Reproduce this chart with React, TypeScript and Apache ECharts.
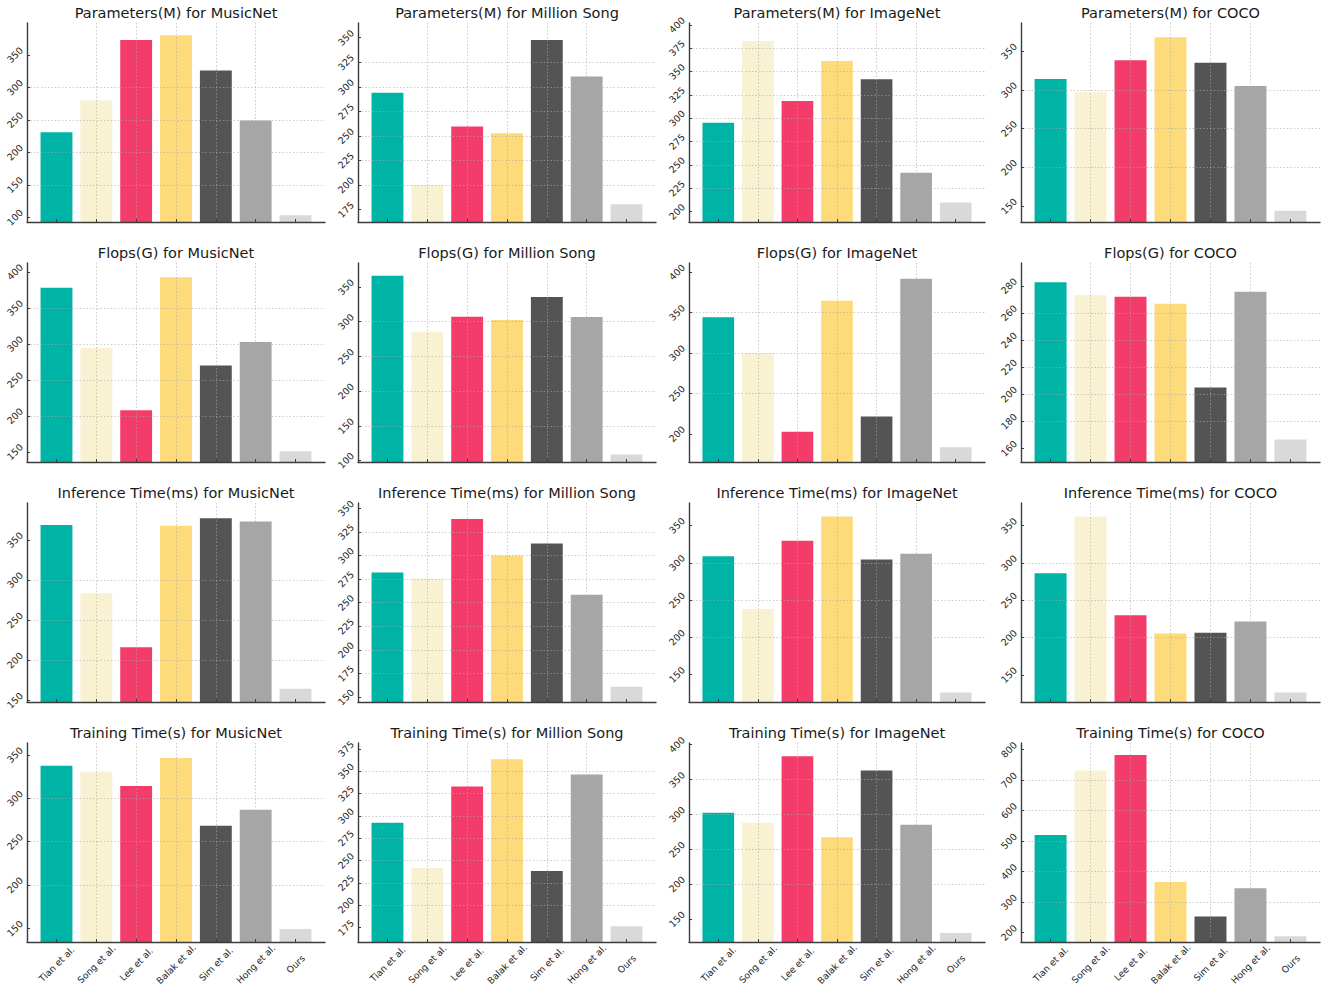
import React, { useEffect, useRef } from 'react';
import * as echarts from 'echarts';

const categories = ['Tian et al.', 'Song et al.', 'Lee et al.', 'Balak et al.', 'Sim et al.', 'Hong et al.', 'Ours'];

const paramsMusicNet = [231, 280, 373, 380, 326, 249, 103];
const paramsMillionSong = [294, 200, 259.5, 252.7, 347.6, 310.4, 180.4];
const paramsImageNet = [295.3, 382.9, 318.5, 361.4, 341.7, 241.7, 209.9];
const paramsCOCO = [314.2, 297, 338.4, 368.1, 335.3, 305.1, 143.9];

const flopsMusicNet = [377.7, 294, 207.6, 392.6, 269.9, 302.4, 150.9];
const flopsMillionSong = [366.3, 285.6, 307.2, 302.4, 335.6, 306.7, 108.7];
const flopsImageNet = [344.2, 300, 202.5, 364.5, 221.5, 391.7, 183.5];
const flopsCOCO = [282.7, 273.1, 271.9, 266.7, 204.9, 275.6, 166.7];

const inferMusicNet = [368.3, 283.4, 216.3, 367.5, 377, 372.9, 164.5];
const inferMillionSong = [282, 275.3, 338.7, 300, 312.6, 258.5, 160.9];
const inferImageNet = [308.8, 237.9, 329.4, 362.1, 304.3, 312, 125.8];
const inferCOCO = [286.1, 362.1, 229.9, 205.4, 206.3, 221.5, 126.3];

const trainMusicNet = [337.7, 330.7, 314.2, 346.5, 268.4, 286.9, 149.2];
const trainMillionSong = [292.2, 241.8, 332.8, 363.4, 238.4, 346.3, 176.5];
const trainImageNet = [302.4, 288, 383.2, 267.4, 363, 285.1, 130.3];
const trainCOCO = [519.7, 731.8, 782.5, 366, 252.9, 345.2, 188];

const chartTitles = [
  'Parameters(M) for MusicNet', 'Parameters(M) for Million Song', 'Parameters(M) for ImageNet', 'Parameters(M) for COCO',
  'Flops(G) for MusicNet', 'Flops(G) for Million Song', 'Flops(G) for ImageNet', 'Flops(G) for COCO',
  'Inference Time(ms) for MusicNet', 'Inference Time(ms) for Million Song', 'Inference Time(ms) for ImageNet', 'Inference Time(ms) for COCO',
  'Training Time(s) for MusicNet', 'Training Time(s) for Million Song', 'Training Time(s) for ImageNet', 'Training Time(s) for COCO',
];

const chartValues = [
  paramsMusicNet, paramsMillionSong, paramsImageNet, paramsCOCO,
  flopsMusicNet, flopsMillionSong, flopsImageNet, flopsCOCO,
  inferMusicNet, inferMillionSong, inferImageNet, inferCOCO,
  trainMusicNet, trainMillionSong, trainImageNet, trainCOCO,
];

const yTickSteps = [
  50, 25, 25, 50,
  50, 50, 50, 20,
  50, 25, 50, 50,
  50, 25, 50, 100,
];

const COLORS = ['#00b4a5', '#f8f1d2', '#f43c6a', '#fddb7a', '#545454', '#a6a6a6', '#d9d9d9'];

const COL_LEFT = [27, 358, 689, 1021];
const COL_WIDTH = [298, 298, 296, 299];
const ROW_TOP = [23, 263, 503, 743];
const PLOT_H = 199;
const X_MIN = -0.74;
const X_MAX = 6.74;
const FONT = '"DejaVu Sans", sans-serif';
const AXIS_COLOR = '#3c3c3c';

export default function App() {
  const ref = useRef<HTMLDivElement>(null);

  useEffect(() => {
    const chart = echarts.init(ref.current as HTMLDivElement, null, { renderer: 'svg' });
    const grid: any[] = [];
    const xAxis: any[] = [];
    const yAxis: any[] = [];
    const series: any[] = [];
    const graphic: any[] = [];

    chartValues.forEach((vals, k) => {
      const r = Math.floor(k / 4);
      const c = k % 4;
      const left = COL_LEFT[c];
      const top = ROW_TOP[r];
      const width = COL_WIDTH[c];
      grid.push({ left, top, width, height: PLOT_H, containLabel: false });

      const yMin = Math.min(...vals) * 0.9;
      const yMax = Math.max(...vals) * 1.05;
      const step = yTickSteps[k];
      const yTicks: number[] = [];
      for (let n = Math.ceil(yMin / step); n * step <= yMax; n++) yTicks.push(n * step);
      const xTicks = categories.map((_, i) => i);
      const isBottom = r === 3;
      const splitLine = {
        show: true,
        showMinLine: false,
        showMaxLine: false,
        lineStyle: { color: '#aaaaaa', type: [1.5, 2], width: 0.8, opacity: 0.75 },
      };

      xAxis.push({
        type: 'value',
        gridIndex: k,
        min: X_MIN,
        max: X_MAX,
        minInterval: 1,
        maxInterval: 1,
        z: 5,
        axisLine: { show: true, onZero: false, lineStyle: { color: AXIS_COLOR, width: 1.4 } },
        axisTick: { show: true, inside: true, length: 3, customValues: xTicks, lineStyle: { color: AXIS_COLOR, width: 1 } },
        axisLabel: {
          show: isBottom,
          customValues: xTicks,
          rotate: 45,
          align: 'center',
          verticalAlign: 'middle',
          margin: 22,
          fontSize: 9.2,
          fontFamily: FONT,
          color: '#262626',
          formatter: (v: number) => (Math.abs(v - Math.round(v)) < 1e-6 ? categories[Math.round(v)] ?? '' : ''),
        },
        splitLine,
      });

      yAxis.push({
        type: 'value',
        gridIndex: k,
        min: yMin,
        max: yMax,
        minInterval: step,
        maxInterval: step,
        z: 5,
        axisLine: { show: true, onZero: false, lineStyle: { color: AXIS_COLOR, width: 1.4 } },
        axisTick: { show: true, inside: true, length: 3, customValues: yTicks, lineStyle: { color: AXIS_COLOR, width: 1 } },
        axisLabel: {
          show: true,
          customValues: yTicks,
          rotate: 45,
          align: 'center',
          verticalAlign: 'middle',
          margin: 12,
          fontSize: 9.5,
          fontFamily: FONT,
          color: '#262626',
          formatter: (v: number) => {
            const q = v / step;
            return Math.abs(q - Math.round(q)) < 1e-6 ? String(Math.round(v)) : '';
          },
        },
        splitLine,
      });

      series.push({
        type: 'bar',
        xAxisIndex: k,
        yAxisIndex: k,
        clip: true,
        barWidth: (0.8 * width) / (X_MAX - X_MIN),
        data: vals.map((v, i) => ({ value: [i, v], itemStyle: { color: COLORS[i] } })),
      });

      graphic.push({
        type: 'text',
        x: left + width / 2,
        y: top - 10,
        style: {
          text: chartTitles[k],
          align: 'center',
          verticalAlign: 'middle',
          fontSize: 14.5,
          fontFamily: FONT,
          fill: '#1a1a1a',
        },
      });
    });

    chart.setOption({
      animation: false,
      backgroundColor: '#ffffff',
      grid,
      xAxis,
      yAxis,
      series,
      graphic,
    });

    return () => {
      chart.dispose();
    };
  }, []);

  return (
    <div
      ref={ref}
      style={{ position: 'absolute', left: 0, top: 0, width: 1325, height: 991, background: '#fff' }}
    />
  );
}
